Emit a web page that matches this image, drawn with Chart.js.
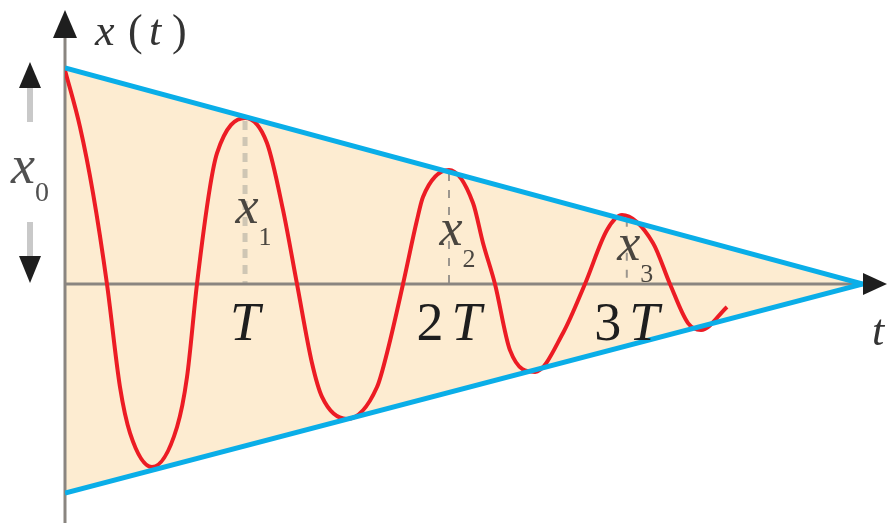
<!DOCTYPE html>
<html>
<head>
<meta charset="utf-8">
<script src="https://cdn.jsdelivr.net/npm/chart.js@4/dist/chart.umd.min.js"></script>
<style>
html,body{margin:0;padding:0;background:#fff;}
#c{display:block;}
</style>
</head>
<body>
<canvas id="c" width="887" height="523" style="width:887px;height:523px"></canvas>
<script>
// ---- data ----
const timeValues = [0, 1.88, 3.51, 5.26, 6.89, 8.15, 10.90, 14.04, 15.29, 16.54,
  18.17, 19.05, 22.56, 25.31, 27.32, 29.07,
  30.95, 32.21, 35.34, 39.10, 40.35, 42.36,
  44.11, 44.86, 48.12, 51.13, 52.38, 53.88,
  55.76, 58.90, 62.41, 65.16,
  67.92, 69.80, 73.68, 75.81,
  78.07, 79.70, 82.96];
const displacement = [0.99, 0.727, 0.421, 0, -0.477, -0.690, -0.847, -0.662, -0.431, 0,
  0.449, 0.606, 0.769, 0.653, 0.343, 0,
  -0.366, -0.523, -0.625, -0.477, -0.319, 0,
  0.296, 0.403, 0.528, 0.375, 0.190, 0,
  -0.306, -0.407, -0.227, 0,
  0.250, 0.319, 0.190, 0,
  -0.181, -0.213, -0.106];
const envelopeTime = [0, 100];
const envelopeUpper = [1.0, 0];
const envelopeLower = [-0.968, 0];
const periodTicks = [22.56, 48.12, 70.4];
const periodTickLabels = [['', 'T'], ['2', 'T'], ['3', 'T']];
const peakTimes = [22.56, 48.12, 70.4];
const peakValues = [0.769, 0.528, 0.316];
const peakSubscripts = ['1', '2', '3'];

const toXY = (xs, ys) => xs.map((x, i) => ({x: x, y: ys[i]}));

const AXIS = '#8a8580';
const SERIF = '"Liberation Serif", "DejaVu Serif", serif';

const decor = {
  id: 'decor',
  beforeDatasetsDraw(chart) {
    const {ctx, scales: {x, y}} = chart;
    const x0 = x.getPixelForValue(0), y0 = y.getPixelForValue(0);
    const xEnd = x.getPixelForValue(envelopeTime[1]);
    ctx.save();
    // dashed peak lines
    peakTimes.forEach((t, i) => {
      const px = x.getPixelForValue(t);
      const py = y.getPixelForValue(peakValues[i]);
      ctx.beginPath();
      ctx.setLineDash(i === 0 ? [9, 7] : [8, 9]);
      ctx.lineWidth = i === 0 ? 5 : 2;
      ctx.strokeStyle = i === 0 ? '#cfc6b4' : '#9c968e';
      ctx.moveTo(px, py + 3);
      ctx.lineTo(px, y0);
      ctx.stroke();
    });
    ctx.setLineDash([]);
    // axes
    ctx.strokeStyle = AXIS;
    ctx.lineWidth = 3;
    ctx.beginPath();
    ctx.moveTo(x0, 36); ctx.lineTo(x0, 523);
    ctx.moveTo(x0, y0); ctx.lineTo(xEnd + 2, y0);
    ctx.stroke();
    ctx.restore();
  },
  afterDatasetsDraw(chart) {
    const {ctx, scales: {x, y}} = chart;
    const x0 = x.getPixelForValue(0), y0 = y.getPixelForValue(0);
    const xEnd = x.getPixelForValue(envelopeTime[1]);
    ctx.save();
    ctx.fillStyle = '#1e1e1e';
    // axis arrowheads
    ctx.beginPath();
    ctx.moveTo(x0, 10); ctx.lineTo(x0 - 12, 38); ctx.lineTo(x0 + 12, 38); ctx.closePath(); ctx.fill();
    ctx.beginPath();
    ctx.moveTo(887, y0); ctx.lineTo(xEnd, y0 - 11); ctx.lineTo(xEnd, y0 + 11); ctx.closePath(); ctx.fill();
    // x0 amplitude arrows
    const ax = 30;
    const topY = y.getPixelForValue(envelopeUpper[0]) - 6;
    ctx.strokeStyle = '#c9c9c9';
    ctx.lineWidth = 6;
    ctx.beginPath();
    ctx.moveTo(ax, topY + 24); ctx.lineTo(ax, 122);
    ctx.moveTo(ax, 222); ctx.lineTo(ax, y0 - 26);
    ctx.stroke();
    ctx.fillStyle = '#1e1e1e';
    ctx.beginPath();
    ctx.moveTo(ax, topY); ctx.lineTo(ax - 11, topY + 26); ctx.lineTo(ax + 11, topY + 26); ctx.closePath(); ctx.fill();
    ctx.beginPath();
    ctx.moveTo(ax, y0 - 1); ctx.lineTo(ax - 11, y0 - 28); ctx.lineTo(ax + 11, y0 - 28); ctx.closePath(); ctx.fill();

    ctx.textBaseline = 'alphabetic';
    // x0 label
    ctx.fillStyle = '#505050';
    ctx.textAlign = 'left';
    ctx.font = 'italic 54px ' + SERIF;
    ctx.fillText('x', 11, 183);
    ctx.font = '28px ' + SERIF;
    ctx.fillText('0', 35, 201);

    // x(t) label
    ctx.fillStyle = '#333';
    ctx.font = 'italic 44px ' + SERIF;
    ctx.fillText('x', 95, 45);
    ctx.font = '44px ' + SERIF;
    ctx.fillText('(', 128, 45);
    ctx.font = 'italic 44px ' + SERIF;
    ctx.fillText('t', 149, 45);
    ctx.font = '44px ' + SERIF;
    ctx.fillText(')', 172, 45);

    // t label at end of time axis
    ctx.font = 'italic 44px ' + SERIF;
    ctx.fillText('t', 872, 345);

    // period tick labels
    ctx.fillStyle = '#1e1e1e';
    periodTicks.forEach((t, i) => {
      const px = x.getPixelForValue(t);
      const [num, sym] = periodTickLabels[i];
      ctx.font = '54px ' + SERIF;
      const wn = num ? ctx.measureText(num).width + 8 : 0;
      ctx.font = 'italic 54px ' + SERIF;
      const ws = ctx.measureText(sym).width;
      let left = px - (wn + ws) / 2;
      if (num) {
        ctx.font = '54px ' + SERIF;
        ctx.fillText(num, left, 340);
      }
      ctx.font = 'italic 54px ' + SERIF;
      ctx.fillText(sym, left + wn, 340);
    });

    // peak labels x1, x2, x3
    const labelRise = [61, 39, 24];
    ctx.fillStyle = '#4a4640';
    peakTimes.forEach((t, i) => {
      const px = x.getPixelForValue(t);
      const base = y0 - labelRise[i];
      ctx.font = 'italic 52px ' + SERIF;
      const w = ctx.measureText('x').width;
      ctx.fillText('x', px - w / 2 + 2, base);
      ctx.font = '26px ' + SERIF;
      ctx.fillText(peakSubscripts[i], px + w / 2 + 2, base + 22);
    });
    ctx.restore();
  }
};

new Chart(document.getElementById('c'), {
  type: 'line',
  data: {
    datasets: [
      {
        label: 'upper envelope',
        data: toXY(envelopeTime, envelopeUpper),
        borderColor: '#0aaee8',
        borderWidth: 5,
        pointRadius: 0,
        fill: '+1',
        backgroundColor: '#fdecd1',
        order: 0
      },
      {
        label: 'lower envelope',
        data: toXY(envelopeTime, envelopeLower),
        borderColor: '#0aaee8',
        borderWidth: 5,
        pointRadius: 0,
        fill: false,
        order: 0
      },
      {
        label: 'x(t)',
        data: toXY(timeValues, displacement),
        borderColor: '#ec1c24',
        borderWidth: 4,
        pointRadius: 0,
        fill: false,
        cubicInterpolationMode: 'monotone',
        order: 1
      }
    ]
  },
  options: {
    responsive: false,
    animation: false,
    layout: {padding: {left: 65, right: 24, top: 20, bottom: 0}},
    scales: {
      x: {type: 'linear', min: 0, max: 100, display: false},
      y: {type: 'linear', min: -1.1065, max: 1.2222, display: false}
    },
    plugins: {
      legend: {display: false},
      tooltip: {enabled: false},
      filler: {drawTime: 'beforeDatasetsDraw'}
    }
  },
  plugins: [decor]
});
</script>
</body>
</html>
